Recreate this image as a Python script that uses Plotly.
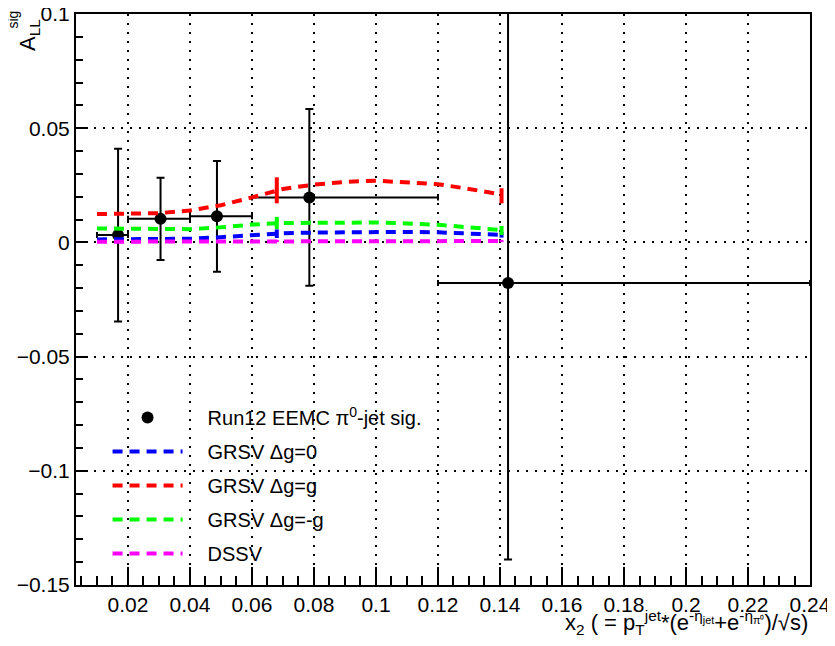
import plotly.graph_objects as go

# ---- data ----
data_x = [0.0168, 0.0305, 0.0487, 0.0785, 0.1426]
data_xlo = [0.01, 0.02, 0.04, 0.06, 0.12]
data_xhi = [0.02, 0.04, 0.06, 0.12, 0.24]
data_y = [0.0032, 0.0103, 0.0114, 0.0197, -0.0178]
data_err = [0.0378, 0.0180, 0.0242, 0.0387, 0.121]

theory_x = [0.01, 0.02, 0.03, 0.04, 0.05, 0.06, 0.07, 0.08, 0.09, 0.10, 0.11, 0.12, 0.13, 0.1405]
grsv_zero = [0.0013, 0.0013, 0.0013, 0.0016, 0.0023, 0.0031, 0.0040, 0.0043, 0.0045, 0.0046, 0.0046, 0.0044, 0.0039, 0.0033]
grsv_std = [0.0124, 0.0124, 0.0128, 0.0140, 0.0163, 0.0197, 0.0234, 0.0253, 0.0265, 0.0270, 0.0264, 0.0255, 0.0234, 0.0210]
grsv_minus = [0.0061, 0.0060, 0.0057, 0.0058, 0.0066, 0.0078, 0.0085, 0.0086, 0.0086, 0.0087, 0.0083, 0.0077, 0.0066, 0.0054]
dssv = [0.0003, 0.0003, 0.0004, 0.0004, 0.0005, 0.0006, 0.0006, 0.0006, 0.0006, 0.0006, 0.0006, 0.0006, 0.0006, 0.0006]

theory_err_x = [0.068, 0.1405]
grsv_zero_pts = [0.0038, 0.0033]
grsv_zero_err = [0.0019, 0.0012]
grsv_std_pts = [0.0228, 0.0204]
grsv_std_err = [0.0057, 0.0033]
grsv_minus_pts = [0.0085, 0.0052]
grsv_minus_err = [0.0027, 0.0020]
dssv_pts = [0.0006, 0.0006]
dssv_err = [0.0005, 0.0005]

x_ticks = [0.02, 0.04, 0.06, 0.08, 0.10, 0.12, 0.14, 0.16, 0.18, 0.20, 0.22, 0.24]
x_ticklabels = ["0.02", "0.04", "0.06", "0.08", "0.1", "0.12", "0.14", "0.16", "0.18", "0.2", "0.22", "0.24"]
y_ticks = [-0.15, -0.1, -0.05, 0, 0.05, 0.1]
y_ticklabels = ["\u22120.15", "\u22120.1", "\u22120.05", "0", "0.05", "0.1"]

FONT = "Liberation Sans, Arial, Helvetica, sans-serif"
DASH = "10px,7px"
PAD = "\u2002\u2002"

fig = go.Figure()

theories = [
    ("GRSV \u0394g=0", grsv_zero, grsv_zero_pts, grsv_zero_err, "rgb(0,0,255)"),
    ("GRSV \u0394g=g", grsv_std, grsv_std_pts, grsv_std_err, "rgb(255,0,0)"),
    ("GRSV \u0394g=-g", grsv_minus, grsv_minus_pts, grsv_minus_err, "rgb(0,255,0)"),
    ("DSSV", dssv, dssv_pts, dssv_err, "rgb(255,0,255)"),
]

# data points
fig.add_trace(go.Scatter(
    x=data_x, y=data_y, mode="markers", name=PAD + "Run12 EEMC \u03c0<sup>0</sup>-jet sig.",
    legendgroup="d",
    marker=dict(color="black", size=12, symbol="circle"),
    error_x=dict(type="data", symmetric=False,
                 array=[h - x for h, x in zip(data_xhi, data_x)],
                 arrayminus=[x - l for l, x in zip(data_xlo, data_x)],
                 color="black", thickness=2, width=3),
    error_y=dict(type="data", array=data_err, color="black", thickness=2, width=4),
))

for i, (name, vals, pts, errs, col) in enumerate(theories):
    fig.add_trace(go.Scatter(
        x=theory_x, y=vals, mode="lines", name=PAD + name, legendgroup="t%d" % i,
        line=dict(color=col, width=4, dash=DASH),
    ))
    fig.add_trace(go.Scatter(
        x=theory_err_x, y=pts, mode="markers", showlegend=False, legendgroup="t%d" % i,
        marker=dict(color=col, size=1, opacity=0),
        error_y=dict(type="data", array=errs, color=col, thickness=4, width=0),
        hoverinfo="skip",
    ))

axis_common = dict(
    showline=True, linecolor="black", linewidth=2, mirror=True,
    ticks="inside", tickcolor="black", tickwidth=2,
    showgrid=True, gridcolor="black", gridwidth=2, griddash="2px,7px",
    zeroline=False, automargin=False, ticklabeloverflow="allow",
    tickfont=dict(family=FONT, size=21, color="black"),
)

fig.update_xaxes(
    range=[0.00323, 0.24], tickmode="array", tickvals=x_ticks, ticktext=x_ticklabels,
    ticklen=18,
    minor=dict(dtick=0.005, tick0=0, ticks="inside", ticklen=9, tickwidth=2,
               tickcolor="black", showgrid=False),
    **axis_common,
)
fig.update_yaxes(
    range=[-0.15, 0.1], tickmode="array", tickvals=y_ticks, ticktext=y_ticklabels,
    ticklen=12,
    minor=dict(dtick=0.01, tick0=0, ticks="inside", ticklen=7, tickwidth=2,
               tickcolor="black", showgrid=False),
    **axis_common,
)

fig.update_layout(
    width=827, height=638,
    margin=dict(l=68, r=25, t=6, b=61),
    plot_bgcolor="white", paper_bgcolor="white",
    font=dict(family=FONT, size=20, color="black"),
    showlegend=True,
    legend=dict(x=0.043, y=0.3275, xanchor="left", yanchor="top",
                bgcolor="rgba(0,0,0,0)", borderwidth=0,
                itemwidth=70, tracegroupgap=5,
                font=dict(family=FONT, size=20, color="black")),
    annotations=[
        dict(xref="paper", yref="paper", x=1.0, y=-0.066, xanchor="right", yanchor="middle",
             text="x<sub>2</sub> ( = p<sub>T</sub><sup>jet</sup>*(e<sup>-\u03b7<sub>jet</sub></sup>+e<sup>-\u03b7<sub>\u03c0\u2070</sub></sup>)/\u221as)",
             showarrow=False, font=dict(family=FONT, size=22, color="black")),
        dict(xref="paper", yref="paper", x=-0.064, y=0.995, xanchor="center", yanchor="top",
             text="A<sub>LL</sub>", textangle=-90,
             showarrow=False, font=dict(family=FONT, size=22, color="black")),
        dict(xref="paper", yref="paper", x=-0.086, y=0.99, xanchor="center", yanchor="middle",
             text="sig", textangle=-90,
             showarrow=False, font=dict(family=FONT, size=14, color="black")),
    ],
)

fig.write_html("out.html")
